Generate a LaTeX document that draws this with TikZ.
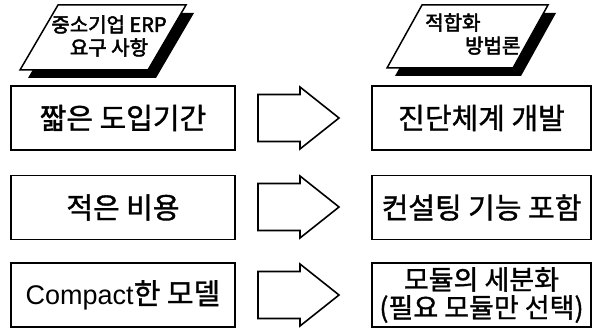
\documentclass[tikz,border=0pt]{standalone}
\usepackage{fontspec}
\setmainfont{Liberation Sans}
\newfontfamily\kr[FakeBold=1.2]{Noto Sans CJK KR}
\newfontfamily\krb[FakeBold=2.5]{Noto Sans CJK KR}
\usepackage{tikz}

\begin{document}
\begin{tikzpicture}[x=1pt,y=-1pt,
    box/.style={shape=rectangle, draw, line width=1.8pt, inner sep=0pt,
      minimum width=224pt, minimum height=64pt, align=center,
      font=\kr\fontsize{29}{32}\selectfont},
    widebox/.style={box, minimum width=219pt},
    tag/.style={inner sep=0pt, font=\krb\fontsize{20}{23}\selectfont},
    blockarrow/.style={draw, line width=1.6pt, line join=miter, fill=white}]
    \useasboundingbox (0,0) rectangle (592,329);

    % banners with shadow
    \fill[shift={(8,8)}] (58,5) -- (186,5) -- (148,70) -- (20,70) -- cycle;
    \draw[fill=white, line width=1.5pt] (58,5) -- (186,5) -- (148,70) -- (20,70) -- cycle;
    \node[tag, align=center] (needs) at (109,36) {중소기업 ERP\\요구 사항};

    \fill[shift={(8,8)}] (422,5) -- (548,5) -- (513,68) -- (387,68) -- cycle;
    \draw[fill=white, line width=1.5pt] (422,5) -- (548,5) -- (513,68) -- (387,68) -- cycle;
    \node[tag, align=left, anchor=west] (method) at (425,34) {적합화\\\hspace*{40pt}방법론};

    % requirements
    \node[box] (need1) at (123,118) {짧은 도입기간};
    \node[box] (need2) at (123,207.5) {적은 비용};
    \node[box] (need3) at (123,295) {{\rmfamily\fontsize{27}{32}\selectfont Compact}한 모델};

    % methods
    \node[widebox] (way1) at (481.5,118) {진단체계 개발};
    \node[widebox] (way2) at (481.5,207.5) {컨설팅 기능 포함};
    \node[widebox, font=\kr\fontsize{27}{28}\selectfont] (way3) at (481.5,295) {모듈의 세분화\\(필요 모듈만 선택)};

    \foreach \y in {118,207,295}
      \draw[blockarrow] (258,\y-23.5) -- (300,\y-23.5) -- (300,\y-31) -- (339,\y)
        -- (300,\y+31) -- (300,\y+23.5) -- (258,\y+23.5) -- cycle;
\end{tikzpicture}
\end{document}
